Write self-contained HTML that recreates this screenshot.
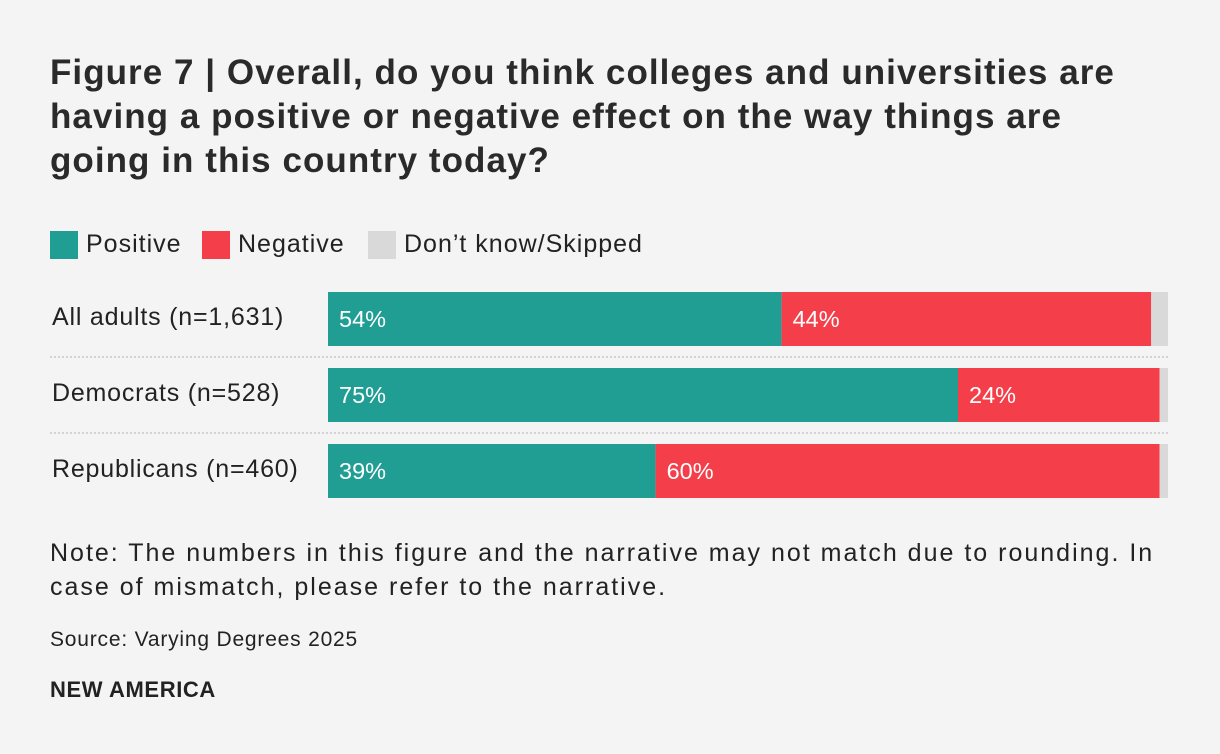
<!DOCTYPE html>
<html><head><meta charset="utf-8"><style>
body{margin:0;background:#f4f4f4;font-family:"Liberation Sans",sans-serif;color:#222;}
#wrap{position:relative;width:1220px;height:754px;overflow:hidden;}
h1{position:absolute;left:50px;top:51px;margin:0;font-size:35px;letter-spacing:1.05px;line-height:44px;font-weight:bold;width:1160px;white-space:nowrap;color:#2a2a2a;}
.leg{position:absolute;top:230px;font-size:25px;letter-spacing:1px;display:flex;align-items:center;}
.sw{width:28px;height:28px;margin-right:8px;display:inline-block;}
.lab{position:absolute;left:52px;font-size:25px;letter-spacing:0.8px;}
.note{position:absolute;left:50px;top:536px;font-size:25px;letter-spacing:2px;line-height:34px;width:1160px;white-space:nowrap;}
.src{position:absolute;left:50px;top:628px;font-size:21px;letter-spacing:0.8px;}
.brand{position:absolute;left:50px;top:677px;font-size:22px;font-weight:bold;letter-spacing:0.6px;}
</style></head><body>
<div id="wrap">
<h1>Figure 7 | Overall, do you think colleges and universities are<br>having a positive or negative effect on the way things are<br>going in this country today?</h1>
<div class="leg" style="left:50px"><span class="sw" style="background:#219e94"></span>Positive</div>
<div class="leg" style="left:202px"><span class="sw" style="background:#f43f4a"></span>Negative</div>
<div class="leg" style="left:368px"><span class="sw" style="background:#d9d9d9"></span>Don’t know/Skipped</div>
<svg id="chart" width="1220" height="754" style="position:absolute;left:0;top:0"></svg>
<div class="note">Note: The numbers in this figure and the narrative may not match due to rounding. In<br>case of mismatch, please refer to the narrative.</div>
<div class="src">Source: Varying Degrees 2025</div>
<div class="brand">NEW AMERICA</div>
</div>
<script>
const categories=["All adults (n=1,631)","Democrats (n=528)","Republicans (n=460)"];
const positive=[54,75,39];
const negative=[44,24,60];
const dontKnow=[2,1,1];
const svg=document.getElementById('chart');
const NS='http://www.w3.org/2000/svg';
const x0=328,W=840,top0=292,rowH=76,barH=54;
const xs=v=>v/100*W;
const colors=["#219e94","#f43f4a","#d9d9d9"];
const names=["positive","negative","dont-know"];
function el(t,a){const e=document.createElementNS(NS,t);for(const k in a)e.setAttribute(k,a[k]);svg.appendChild(e);return e;}
categories.forEach((c,i)=>{
  const y=top0+i*rowH;
  const lab=document.createElement('div');
  lab.className='lab';lab.style.top=(y+11)+'px';lab.textContent=c;
  
  
  document.getElementById('wrap').appendChild(lab);
  if(i>0){const l=el('line',{x1:50,x2:1168,y1:y-11,y2:y-11,stroke:'#c8c8c8','stroke-width':1.5,'stroke-dasharray':'2,2'});
    
    }
  let cx=x0;
  [positive[i],negative[i],dontKnow[i]].forEach((v,j)=>{
    const r=el('rect',{x:cx,y:y,width:xs(v),height:barH,fill:colors[j]});
    
    
    if(j<2){const t=el('text',{x:cx+11,y:y+35,fill:'#fff','font-size':23.5,'font-family':'Liberation Sans, sans-serif'});
      t.textContent=v+'%';
      
      }
    cx+=xs(v);
  });
});
</script>
</body></html>
